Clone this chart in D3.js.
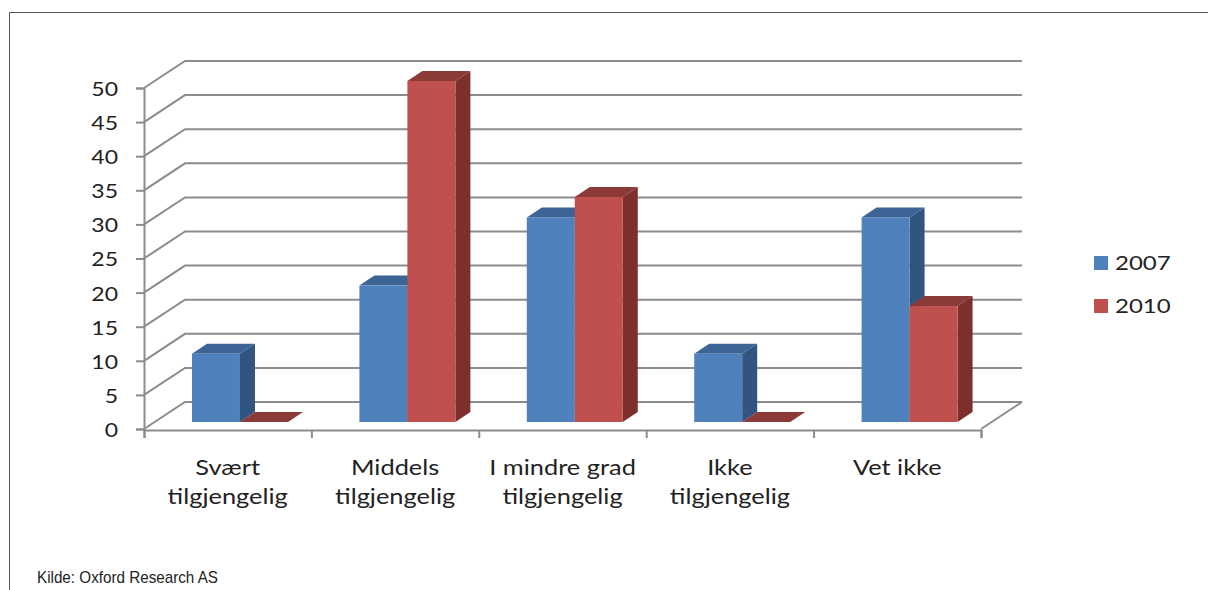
<!DOCTYPE html>
<html lang="no">
<head>
<meta charset="utf-8">
<title>Tilgjengelighet 2007 og 2010</title>
<script src="https://cdn.jsdelivr.net/npm/d3@7/dist/d3.min.js"></script>
<style>
  html, body { margin: 0; padding: 0; background: #fff; }
  svg { display: block; }
  .lbl { font-family: Lato, sans-serif; font-size: 20px; fill: #222; }
  .cat { font-size: 21px; }
</style>
</head>
<body>
<svg id="chart" width="1208" height="590"></svg>
<script>
// Values in percent per answer category
const categories = [
  ["Svært", "tilgjengelig"],
  ["Middels", "tilgjengelig"],
  ["I mindre grad", "tilgjengelig"],
  ["Ikke", "tilgjengelig"],
  ["Vet ikke"]
];
const seriesNames = ["2007", "2010"];
const values2007 = [10, 20, 30, 10, 30];
const values2010 = [0, 50, 33, 0, 17];
const yTicks = [0, 5, 10, 15, 20, 25, 30, 35, 40, 45, 50];
const source = "Kilde: Oxford Research AS";

const colors = {
  "2007": { front: "#4f81bd", side: "#325480", top: "#3c6596" },
  "2010": { front: "#c0504d", side: "#7d2f2d", top: "#8c3a38" }
};
const gridColor = "#8c8c8c";
const textStretch = 1.15;
const catStretch = 1.21;

const svg = d3.select("#chart");

// Oblique projection: wall depth and the depth at which the bars stand
const wall = { dx: 41, dy: -27 };
const barBase = { dy: -7 };
const barDepth = { dx: 15, dy: -10 };

const y = d3.scaleLinear().domain([0, 50]).range([429, 88]);
const xBand = d3.scaleBand().domain(d3.range(categories.length)).range([144, 981]);
const xEdge = d3.scaleLinear().domain([0, categories.length]).range([144, 981]);
const xBar = d3.scaleBand().domain(seriesNames).range([0, xBand.bandwidth()])
  .paddingInner(0).paddingOuter(0.744).align(0.672);

// Page frame
svg.append("path")
  .attr("d", "M9.5,590V12.5H1208")
  .attr("fill", "none").attr("stroke", "#555").attr("stroke-width", 1);

// Back wall gridlines with their run along the left wall
const x0 = xEdge(0), xEnd = xEdge(categories.length);
svg.append("g").selectAll("path").data(yTicks).join("path")
  .attr("d", d => d3.line()([[x0, y(d)], [x0 + wall.dx, y(d) + wall.dy], [xEnd + wall.dx, y(d) + wall.dy]]))
  .attr("fill", "none").attr("stroke", gridColor).attr("stroke-width", 2);

// Floor: right edge
svg.append("path")
  .attr("d", d3.line()([[xEnd, y(0)], [xEnd + wall.dx, y(0) + wall.dy]]))
  .attr("fill", "none").attr("stroke", gridColor).attr("stroke-width", 2);

// Axes
const yAxis = svg.append("g")
  .attr("transform", `translate(${x0},0)`)
  .call(d3.axisLeft(y).tickValues(yTicks).tickSize(8).tickPadding(18));
const xAxis = svg.append("g")
  .attr("transform", `translate(0,${y(0) + 1})`)
  .call(d3.axisBottom(xEdge).tickValues(d3.range(categories.length + 1)).tickSize(8).tickFormat(""));
[yAxis, xAxis].forEach(g => {
  g.selectAll(".domain").attr("stroke", gridColor).attr("stroke-width", 2);
  g.selectAll(".tick line").attr("stroke", gridColor).attr("stroke-width", 2);
});
yAxis.selectAll(".tick text")
  .attr("class", "lbl")
  .attr("text-anchor", "end")
  .attr("x", null).attr("dy", null)
  .attr("dominant-baseline", "central")
  .attr("transform", `translate(-26,0) scale(${textStretch},1)`);

// Bars: front, side and top faces
const yBase = v => y(v) + barBase.dy;
function drawBars(name, values) {
  const c = colors[name];
  const g = svg.append("g");
  values.forEach((v, i) => {
    const xl = xBand(i) + xBar(name);
    const xr = xl + xBar.bandwidth();
    const top = yBase(v), bottom = yBase(0);
    const bar = g.append("g");
    bar.append("path").attr("fill", c.side).attr("d", d3.line()([
      [xr, top], [xr + barDepth.dx, top + barDepth.dy],
      [xr + barDepth.dx, bottom + barDepth.dy], [xr, bottom]]) + "Z");
    bar.append("path").attr("fill", c.top).attr("d", d3.line()([
      [xl, top], [xl + barDepth.dx, top + barDepth.dy],
      [xr + barDepth.dx, top + barDepth.dy], [xr, top]]) + "Z");
    bar.append("rect").attr("fill", c.front)
      .attr("x", xl).attr("y", top)
      .attr("width", xr - xl).attr("height", bottom - top);
  });
}
drawBars("2007", values2007);
drawBars("2010", values2010);

// Category labels
const catLabels = svg.append("g");
categories.forEach((lines, i) => {
  const cx = xBand(i) + xBand.bandwidth() / 2;
  lines.forEach((line, j) => {
    catLabels.append("text").attr("class", "lbl cat")
      .attr("text-anchor", "middle")
      .attr("transform", `translate(${cx},${475 + j * 29}) scale(${catStretch},1)`)
      .text(line);
  });
});

// Legend
const legendY = d3.scalePoint().domain(seriesNames).range([263, 306]);
const legend = svg.append("g").selectAll("g").data(seriesNames).join("g")
  .attr("transform", d => `translate(1094,${legendY(d)})`);
legend.append("rect").attr("x", 0).attr("y", -7).attr("width", 14).attr("height", 14)
  .attr("fill", d => colors[d].front);
legend.append("text").attr("class", "lbl")
  .attr("transform", `translate(21,7) scale(${textStretch + 0.05},1)`)
  .text(d => d);

// Source line
svg.append("text")
  .attr("x", 37).attr("y", 583)
  .attr("font-family", "'Liberation Sans', sans-serif")
  .attr("font-size", 17).attr("fill", "#222")
  .attr("textLength", 181).attr("lengthAdjust", "spacingAndGlyphs")
  .text(source);
</script>
</body>
</html>
